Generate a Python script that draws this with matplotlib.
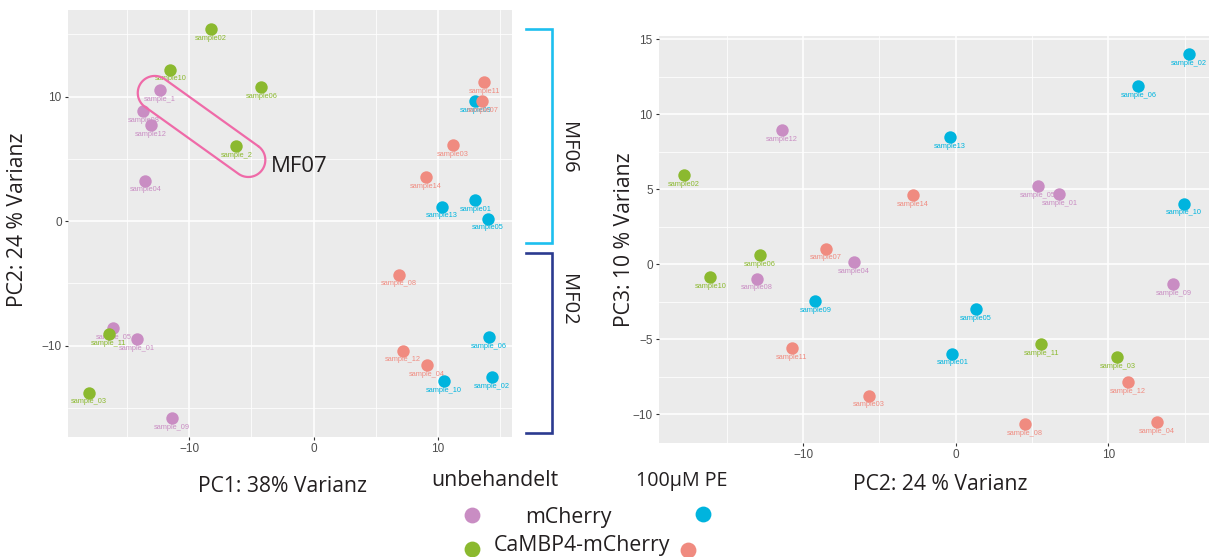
import numpy as np
import matplotlib
matplotlib.use("Agg")
import matplotlib.pyplot as plt

W, H = 1209, 557
# ---------------- data ----------------
groups = ["mCherry_unb", "CaMBP4_unb", "mCherry_PE", "CaMBP4_PE"]
colors = {"mCherry_unb": "#C98DC3", "CaMBP4_unb": "#8BB92F",
          "mCherry_PE": "#00B4DE", "CaMBP4_PE": "#F08B80"}

# left panel: PC1 vs PC2
left_labels = {
    "mCherry_unb": ["sample_1", "sample08", "sample12", "sample04", "sample_05", "sample_01", "sample_09"],
    "CaMBP4_unb": ["sample02", "sample10", "sample06", "sample_2", "sample_11", "sample_03"],
    "mCherry_PE": ["sample09", "sample13", "sample01", "sample05", "sample_06", "sample_10", "sample_02"],
    "CaMBP4_PE": ["sample11", "sample07", "sample03", "sample14", "sample_08", "sample_12", "sample_04"],
}
left_pc1 = {
    "mCherry_unb": [-12.35, -13.67, -13.08, -13.51, -16.08, -14.20, -11.37],
    "CaMBP4_unb": [-8.26, -11.50, -4.19, -6.20, -16.43, -18.05],
    "mCherry_PE": [12.99, 10.30, 13.00, 14.01, 14.07, 10.50, 14.31],
    "CaMBP4_PE": [13.69, 13.56, 11.18, 9.03, 6.86, 7.19, 9.12],
}
left_pc2 = {
    "mCherry_unb": [10.54, 8.85, 7.70, 3.25, -8.60, -9.50, -15.81],
    "CaMBP4_unb": [15.41, 12.17, 10.78, 6.04, -9.06, -13.78],
    "mCherry_PE": [9.63, 1.17, 1.68, 0.20, -9.30, -12.83, -12.54],
    "CaMBP4_PE": [11.15, 9.63, 6.11, 3.53, -4.30, -10.40, -11.57],
}

# right panel: PC2 vs PC3
right_labels = {
    "mCherry_unb": ["sample12", "sample_05", "sample_01", "sample04", "sample08", "sample_09"],
    "CaMBP4_unb": ["sample02", "sample06", "sample10", "sample_11", "sample_03"],
    "mCherry_PE": ["sample_02", "sample_06", "sample13", "sample_10", "sample09", "sample05", "sample01"],
    "CaMBP4_PE": ["sample14", "sample07", "sample11", "sample03", "sample_08", "sample_12", "sample_04"],
}
right_pc2 = {
    "mCherry_unb": [-11.40, 5.37, 6.79, -6.68, -13.04, 14.26],
    "CaMBP4_unb": [-17.79, -12.82, -16.08, 5.61, 10.59],
    "mCherry_PE": [15.29, 11.97, -0.37, 14.94, -9.20, 1.31, -0.22],
    "CaMBP4_PE": [-2.82, -8.52, -10.75, -5.68, 4.56, 11.29, 13.17],
}
right_pc3 = {
    "mCherry_unb": [8.93, 5.20, 4.67, 0.11, -0.98, -1.35],
    "CaMBP4_unb": [5.93, 0.58, -0.87, -5.33, -6.22],
    "mCherry_PE": [14.00, 11.87, 8.47, 4.02, -2.47, -3.02, -5.98],
    "CaMBP4_PE": [4.60, 1.02, -5.60, -8.78, -10.67, -7.87, -10.53],
}

left_xticks = [-10, 0, 10]
left_yticks = [-10, 0, 10]
right_xticks = [-10, 0, 10]
right_yticks = [-10, -5, 0, 5, 10, 15]

# ---------------- figure ----------------
fig = plt.figure(figsize=(W / 100, H / 100), dpi=100)
fig.patch.set_facecolor("white")

def px_ax(x0, y0, x1, y1):
    return [x0 / W, 1 - y1 / H, (x1 - x0) / W, (y1 - y0) / H]

axL = fig.add_axes(px_ax(68, 10, 512, 437))
axR = fig.add_axes(px_ax(659, 36, 1209, 443))

def style(ax, xlim, ylim, xt, yt, xminor, yminor):
    ax.set_facecolor("#EBEBEB")
    ax.set_xlim(*xlim)
    ax.set_ylim(*ylim)
    ax.set_xticks(xt)
    ax.set_yticks(yt)
    ax.set_xticks(xminor, minor=True)
    ax.set_yticks(yminor, minor=True)
    ax.grid(True, which="major", color="white", linewidth=1.1)
    ax.grid(True, which="minor", color="white", linewidth=0.55)
    ax.set_axisbelow(True)
    for s in ax.spines.values():
        s.set_visible(False)
    ax.tick_params(which="major", length=2.5, width=0.8, color="#333333",
                   labelsize=8.5, labelcolor="#4D4D4D", pad=2)
    ax.tick_params(which="minor", length=0)
    for lab in ax.get_xticklabels() + ax.get_yticklabels():
        lab.set_family("Liberation Sans")

style(axL, (-19.72, 15.94), (-17.33, 16.96), left_xticks, left_yticks,
      [-15, -5, 5, 15], [-15, -5, 5, 15])
style(axR, (-19.44, 16.6), (-11.93, 15.2), right_xticks, right_yticks,
      [-15, -5, 5, 15], [-7.5, -2.5, 2.5, 7.5, 12.5])

def draw(ax, xs, ys, labs):
    for g in groups:
        ax.scatter(xs[g], ys[g], s=80, color=colors[g], zorder=3, linewidths=0)
        for x, y, t in zip(xs[g], ys[g], labs[g]):
            ax.annotate(t, (x, y), xytext=(0, -6.6), textcoords="offset points",
                        ha="center", va="center", fontsize=5.3, color=colors[g],
                        family="Liberation Sans", zorder=2)

draw(axL, left_pc1, left_pc2, left_labels)
draw(axR, right_pc2, right_pc3, right_labels)

# ---------------- overlay (annotations / legend) ----------------
ov = fig.add_axes([0, 0, 1, 1])
ov.set_xlim(0, W)
ov.set_ylim(H, 0)
ov.axis("off")
ov.patch.set_alpha(0)

TF = "Open Sans"
txtc = "#231F20"

# axis titles
ov.text(18, 220, "PC2: 24 % Varianz", rotation=90, ha="center", va="center",
        fontsize=15.2, family=TF, color=txtc)
ov.text(282, 487, "PC1: 38% Varianz", ha="center", va="center",
        fontsize=15.2, family=TF, color=txtc)
ov.text(624, 240, "PC3: 10 % Varianz", rotation=90, ha="center", va="center",
        fontsize=15.2, family=TF, color=txtc)
ov.text(940, 484, "PC2: 24 % Varianz", ha="center", va="center",
        fontsize=15.2, family=TF, color=txtc)

# capsule around sample_1 / sample_2 (MF07)
def disp_to_img(ax, x, y):
    d = ax.transData.transform((x, y))
    return d[0], H - d[1]

i1 = left_labels["mCherry_unb"].index("sample_1")
i2 = left_labels["CaMBP4_unb"].index("sample_2")
p1 = np.array(disp_to_img(axL, left_pc1["mCherry_unb"][i1], left_pc2["mCherry_unb"][i1]))
p2 = np.array(disp_to_img(axL, left_pc1["CaMBP4_unb"][i2], left_pc2["CaMBP4_unb"][i2]))
c1 = p1 + np.array([-5, 3])
c2 = p2 + np.array([12, 14])
r = 17
phi = np.arctan2(c2[1] - c1[1], c2[0] - c1[0])
t1 = np.linspace(phi - np.pi / 2, phi + np.pi / 2, 60)
t2 = np.linspace(phi + np.pi / 2, phi + 3 * np.pi / 2, 60)
xs = np.concatenate([c2[0] + r * np.cos(t1), c1[0] + r * np.cos(t2)])
ys = np.concatenate([c2[1] + r * np.sin(t1), c1[1] + r * np.sin(t2)])
xs = np.append(xs, xs[0]); ys = np.append(ys, ys[0])
ov.plot(xs, ys, color="#EF6AA8", linewidth=1.6, solid_capstyle="round")
ov.text(271, 166, "MF07", ha="left", va="center", fontsize=16, family=TF, color=txtc)

# brackets
ov.plot([526, 552, 552, 526], [29, 29, 243, 243], color="#1DBFEF", linewidth=1.9,
        solid_joinstyle="miter")
ov.plot([526, 552, 552, 526], [253, 253, 433, 433], color="#2B3A8F", linewidth=1.9,
        solid_joinstyle="miter")
ov.text(568, 148, "MF06", rotation=-90, ha="center", va="center", fontsize=14.5,
        family=TF, color=txtc)
ov.text(568, 300, "MF02", rotation=-90, ha="center", va="center", fontsize=14.5,
        family=TF, color=txtc)

# legend
LF = 15.3
ov.text(495, 481, "unbehandelt", ha="center", va="center", fontsize=LF, family=TF, color=txtc)
ov.text(682, 481, "100µM PE", ha="center", va="center", fontsize=14.2, family=TF, color=txtc)
ov.text(568, 518, "mCherry", ha="center", va="center", fontsize=LF, family=TF, color=txtc)
ov.text(582, 545, "CaMBP4-mCherry", ha="center", va="center", fontsize=LF, family=TF, color=txtc)
ov.scatter([472], [515], s=130, color=colors["mCherry_unb"], linewidths=0)
ov.scatter([703], [514], s=130, color=colors["mCherry_PE"], linewidths=0)
ov.scatter([472], [549], s=130, color=colors["CaMBP4_unb"], linewidths=0)
ov.scatter([688], [550], s=130, color=colors["CaMBP4_PE"], linewidths=0)

fig.savefig("out.png", dpi=100)
